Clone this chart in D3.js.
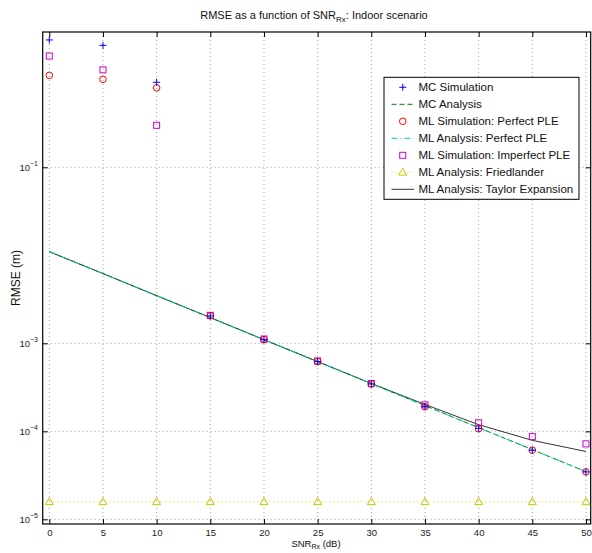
<!DOCTYPE html>
<meta charset="utf-8">
<title>RMSE vs SNR</title>
<style>
body { margin: 0; background: #fff; }
text { font-family: "Liberation Sans", Arial, Helvetica, sans-serif; }
.grid line { stroke: #888; stroke-dasharray: 1,3; stroke-width: 0.8; }
</style>
<svg width="592" height="553"></svg>
<script src="https://d3js.org/d3.v7.min.js"></script>
<script>

// values
var snr = [0, 5, 10, 15, 20, 25, 30, 35, 40, 45, 50];
var mcSim      = [2.8, 2.43, 0.925, 2.05e-3, 1.1e-3, 6.2e-4, 3.45e-4, 1.92e-4, 1.08e-4, 6.1e-5, 3.46e-5];
var mcAnalysis = [1.1e-2, 6.2e-3, 3.48e-3, 1.96e-3, 1.1e-3, 6.2e-4, 3.48e-4, 1.96e-4, 1.1e-4, 6.2e-5, 3.48e-5];
var mlSimPerfect   = [1.11, 1.0, 0.80, 2.05e-3, 1.1e-3, 6.2e-4, 3.45e-4, 1.9e-4, 1.07e-4, 6.1e-5, 3.46e-5];
var mlAnaPerfect   = [1.1e-2, 6.2e-3, 3.48e-3, 1.96e-3, 1.1e-3, 6.2e-4, 3.48e-4, 1.96e-4, 1.1e-4, 6.2e-5, 3.48e-5];
var mlSimImperfect = [1.84, 1.28, 0.30, 2.08e-3, 1.12e-3, 6.3e-4, 3.5e-4, 2.0e-4, 1.25e-4, 8.7e-5, 7.2e-5];
var friedlander    = [1.58e-5, 1.58e-5, 1.58e-5, 1.58e-5, 1.58e-5, 1.58e-5, 1.58e-5, 1.58e-5, 1.58e-5, 1.58e-5, 1.58e-5];
var taylor         = [1.1e-2, 6.2e-3, 3.48e-3, 1.96e-3, 1.1e-3, 6.2e-4, 3.5e-4, 2.02e-4, 1.19e-4, 7.9e-5, 5.9e-5];

var xTicks = [0, 5, 10, 15, 20, 25, 30, 35, 40, 45, 50];
var yTickExp = [-1, -3, -4, -5];

var svg = d3.select("svg");
var L = 42.7, R = 590.7, T = 32, B = 524;

var x = d3.scaleLinear().domain([-0.615, 50.44]).range([L, R]);
var y = d3.scaleLog().domain([Math.pow(10, -5.053), Math.pow(10, 0.5375)]).range([B, T]);

// grid
var grid = svg.append("g").attr("class", "grid");
grid.selectAll(".gx").data(xTicks).enter().append("line")
    .attr("x1", function(d) { return x(d); }).attr("x2", function(d) { return x(d); })
    .attr("y1", T).attr("y2", B);
grid.selectAll(".gy").data(yTickExp).enter().append("line")
    .attr("y1", function(d) { return y(Math.pow(10, d)); }).attr("y2", function(d) { return y(Math.pow(10, d)); })
    .attr("x1", L).attr("x2", R);

// axes
var xAxisB = d3.axisBottom(x).tickValues(xTicks).tickSizeInner(-5).tickSizeOuter(0).tickPadding(5);
var xAxisT = d3.axisTop(x).tickValues(xTicks).tickSizeInner(-5).tickSizeOuter(0).tickFormat("");
var yVals = yTickExp.map(function(e) { return Math.pow(10, e); });
var yAxisL = d3.axisLeft(y).tickValues(yVals).tickSizeInner(-5).tickSizeOuter(0).tickFormat("");
var yAxisR = d3.axisRight(y).tickValues(yVals).tickSizeInner(-5).tickSizeOuter(0).tickFormat("");

function styleAxis(g) {
  g.select(".domain").remove();
  g.selectAll(".tick line").attr("stroke", "#000");
  g.selectAll("text").attr("font-size", 9.5).attr("fill", "#222")
    .style("font-family", "'Liberation Sans', Arial, sans-serif");
}
svg.append("g").attr("transform", "translate(0," + B + ")").call(xAxisB).call(styleAxis);
svg.append("g").attr("transform", "translate(0," + T + ")").call(xAxisT).call(styleAxis);
svg.append("g").attr("transform", "translate(" + L + ",0)").call(yAxisL).call(styleAxis);
svg.append("g").attr("transform", "translate(" + R + ",0)").call(yAxisR).call(styleAxis);

// y tick labels with superscripts
var yl = svg.append("g").selectAll("text").data(yTickExp).enter().append("text")
    .attr("x", 38).attr("y", function(d) { return y(Math.pow(10, d)) + 3.5; })
    .attr("text-anchor", "end").attr("font-size", 9.5).attr("fill", "#222");
yl.append("tspan").text("10");
yl.append("tspan").attr("dy", -5).attr("font-size", 7).text(function(d) { return "\u2212" + (-d); });

// frame
svg.append("rect").attr("x", L).attr("y", T).attr("width", R - L).attr("height", B - T)
    .attr("fill", "none").attr("stroke", "#000").attr("stroke-width", 1.2);

var pts = function(vals) { return snr.map(function(s, i) { return [s, vals[i]]; }); };
var line = d3.line().x(function(d) { return x(d[0]); }).y(function(d) { return y(d[1]); });

var plot = svg.append("g");

// lines
plot.append("path").datum(pts(friedlander)).attr("d", line)
    .attr("fill", "none").attr("stroke", "#d8d800").attr("stroke-width", 1).attr("stroke-dasharray", "1,3");
plot.append("path").datum(pts(taylor)).attr("d", line)
    .attr("fill", "none").attr("stroke", "#333").attr("stroke-width", 1);
plot.append("path").datum(pts(mcAnalysis)).attr("d", line)
    .attr("fill", "none").attr("stroke", "#008000").attr("stroke-width", 1).attr("stroke-dasharray", "5,3");
plot.append("path").datum(pts(mlAnaPerfect)).attr("d", line)
    .attr("fill", "none").attr("stroke", "#00c8c8").attr("stroke-width", 1).attr("stroke-dasharray", "6,3,1,3");

// markers
function triangle(g, cx, cy) {
  g.append("path").attr("d", "M" + cx + "," + (cy - 4.2) + "L" + (cx + 4) + "," + (cy + 2.8) + "L" + (cx - 4) + "," + (cy + 2.8) + "Z")
    .attr("fill", "none").attr("stroke", "#c8c800").attr("stroke-width", 1);
}
function square(g, cx, cy) {
  g.append("rect").attr("x", cx - 3).attr("y", cy - 3).attr("width", 6).attr("height", 6)
    .attr("fill", "none").attr("stroke", "#cc00cc").attr("stroke-width", 1);
}
function circle(g, cx, cy) {
  g.append("circle").attr("cx", cx).attr("cy", cy).attr("r", 3.3)
    .attr("fill", "none").attr("stroke", "#ff0000").attr("stroke-width", 1);
}
function plus(g, cx, cy) {
  g.append("path").attr("d", "M" + (cx - 3.5) + "," + cy + "H" + (cx + 3.5) + "M" + cx + "," + (cy - 3.5) + "V" + (cy + 3.5))
    .attr("stroke", "#0000ff").attr("stroke-width", 1);
}

snr.forEach(function(s, i) { triangle(plot, x(s), y(friedlander[i])); });
snr.forEach(function(s, i) { square(plot, x(s), y(mlSimImperfect[i])); });
snr.forEach(function(s, i) { circle(plot, x(s), y(mlSimPerfect[i])); });
snr.forEach(function(s, i) { plus(plot, x(s), y(mcSim[i])); });

// legend
var legendNames = ["MC Simulation", "MC Analysis", "ML Simulation: Perfect PLE", "ML Analysis: Perfect PLE",
  "ML Simulation: Imperfect PLE", "ML Analysis: Friedlander", "ML Analysis: Taylor Expansion"];
var lg = svg.append("g");
lg.append("rect").attr("x", 384).attr("y", 77.3).attr("width", 195).attr("height", 122)
    .attr("fill", "#fff").attr("stroke", "#000").attr("stroke-width", 1);
legendNames.forEach(function(name, i) {
  var ry = 87.3 + i * 17;
  var g = lg.append("g");
  var x0 = 391.5, x1 = 414, xm = (x0 + x1) / 2;
  if (i === 0) plus(g, xm, ry);
  if (i === 1) g.append("line").attr("x1", x0).attr("x2", x1).attr("y1", ry).attr("y2", ry)
      .attr("stroke", "#008000").attr("stroke-dasharray", "5,3");
  if (i === 2) circle(g, xm, ry);
  if (i === 3) g.append("line").attr("x1", x0).attr("x2", x1).attr("y1", ry).attr("y2", ry)
      .attr("stroke", "#00c8c8").attr("stroke-dasharray", "6,3,1,3");
  if (i === 4) square(g, xm, ry);
  if (i === 5) {
    g.append("line").attr("x1", x0).attr("x2", x1).attr("y1", ry).attr("y2", ry)
      .attr("stroke", "#d8d800").attr("stroke-dasharray", "1,3");
    triangle(g, xm, ry);
  }
  if (i === 6) g.append("line").attr("x1", x0).attr("x2", x1).attr("y1", ry).attr("y2", ry)
      .attr("stroke", "#333");
  g.append("text").attr("x", 418.5).attr("y", ry + 4).attr("font-size", 11.5).attr("fill", "#111").text(name);
});

// title
var title = svg.append("text").attr("x", 314).attr("y", 18.5).attr("text-anchor", "middle")
    .attr("font-size", 11).attr("fill", "#111");
title.append("tspan").text("RMSE as a function of SNR");
title.append("tspan").attr("dy", 3).attr("font-size", 8).text("Rx");
title.append("tspan").attr("dy", -3).text(": Indoor scenario");

// x label
var xl = svg.append("text").attr("x", 316).attr("y", 546.5).attr("text-anchor", "middle")
    .attr("font-size", 9.5).attr("fill", "#111");
xl.append("tspan").text("SNR");
xl.append("tspan").attr("dy", 2.5).attr("font-size", 7).text("Rx");
xl.append("tspan").attr("dy", -2.5).text(" (dB)");

// y label
svg.append("text").attr("transform", "translate(20,278) rotate(-90)").attr("text-anchor", "middle")
    .attr("font-size", 12).attr("fill", "#111").text("RMSE (m)");

</script>
